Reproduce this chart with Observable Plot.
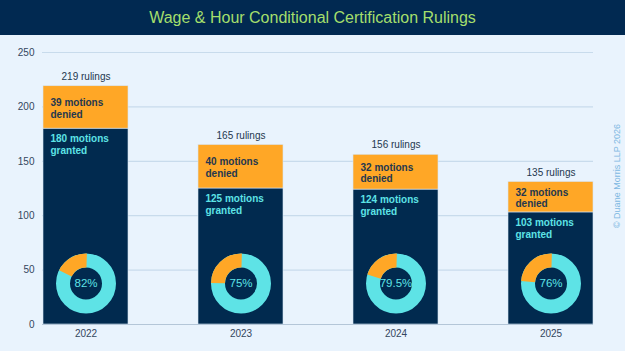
<!DOCTYPE html>
<html>
<head>
<meta charset="utf-8">
<script src="https://cdn.jsdelivr.net/npm/d3@7"></script>
<script src="https://cdn.jsdelivr.net/npm/@observablehq/plot@0.6"></script>
<style>
  html, body { margin: 0; padding: 0; background: #e9f3fd; width: 625px; height: 351px; overflow: hidden; }
  #title { height: 35px; background: #012951; color: #a4df6c; font: 16px "Liberation Sans", Arial, sans-serif; line-height: 35px; text-align: center; }
  #chart svg { display: block; }
</style>
</head>
<body>
<div id="title">Wage &amp; Hour Conditional Certification Rulings</div>
<div id="chart"></div>
<script>
const years = ["2022", "2023", "2024", "2025"];
const granted = [180, 125, 124, 103];
const deniedBars = [39, 40, 32, 28];      // drawn heights of the orange segments
const deniedCounts = [39, 40, 32, 32];    // numbers printed in the labels
const rulings = [219, 165, 156, 135];
const grantRate = [82, 75, 79.5, 76];
const yTicks = [0, 50, 100, 150, 200, 250];

const NAVY = "#012a4f", ORANGE = "#ffa726", CYAN = "#5ee3e6", DARK = "#24374f";

const rows = years.map((year, i) => ({
  year, granted: granted[i], denied: deniedBars[i], top: granted[i] + deniedBars[i],
  mid: granted[i] + deniedBars[i] / 2,
  rulings: rulings[i], rate: grantRate[i],
  deniedText: `${deniedCounts[i]} motions\ndenied`,
  grantedText: `${granted[i]} motions\ngranted`
}));
const stacked = rows.flatMap(d => [
  {year: d.year, type: "granted", value: d.granted},
  {year: d.year, type: "denied", value: d.denied}
]);

const R = 23, C = 2 * Math.PI * R;
const arcMarks = rows.map(d => {
  const f = 1 - d.rate / 100;
  return Plot.dot([d], {x: "year", y: 0, dy: -41, r: R, fill: "none", stroke: ORANGE, strokeWidth: 14,
    strokeDasharray: `0 ${(0.75 - f) * C} ${f * C} ${C}`});
});

const chart = Plot.plot({
  width: 625, height: 316,
  marginTop: 17, marginBottom: 27, marginLeft: 42, marginRight: 32,
  style: {background: "transparent", fontFamily: "'Liberation Sans', Arial, sans-serif", fontSize: "10px", color: "#34465e"},
  x: {type: "band", domain: years, paddingInner: 0.453, paddingOuter: 0, label: null},
  y: {domain: [0, 250], label: null},
  marks: [
    Plot.gridY(yTicks, {stroke: "#c8dbec", strokeOpacity: 1, strokeWidth: 1.2}),
    Plot.axisY(yTicks, {tickSize: 0, tickPadding: 8, fill: "#34465e", label: null}),
    Plot.axisX({tickSize: 0, tickPadding: 5, fill: "#34465e", label: null}),
    Plot.barY(stacked, {x: "year", y: "value", fill: d => d.type === "granted" ? NAVY : ORANGE,
      stroke: "#d6e6f5", strokeWidth: 0.6, insetLeft: 0, insetRight: 0}),
    Plot.ruleY([0], {stroke: "#b4c6d8", strokeWidth: 1.2}),
    Plot.text(rows, {x: "year", y: "top", dy: -9.5, text: d => `${d.rulings} rulings`, fill: DARK, fontSize: 10}),
    Plot.text(rows, {x: "year", y: "mid", dy: 0.5, dx: -35.5, text: "deniedText", textAnchor: "start",
      lineAnchor: "middle", lineHeight: 1.18, fill: DARK, fontWeight: "bold", fontSize: 10}),
    Plot.text(rows, {x: "year", y: "granted", dy: 15.5, dx: -35.5, text: "grantedText", textAnchor: "start",
      lineAnchor: "middle", lineHeight: 1.2, fill: CYAN, fontWeight: "bold", fontSize: 10}),
    Plot.dot(rows, {x: "year", y: 0, dy: -41, r: R, fill: "none", stroke: CYAN, strokeWidth: 14}),
    ...arcMarks,
    Plot.text(rows, {x: "year", y: 0, dy: -41, text: d => `${d.rate}%`, fill: CYAN, fontSize: 11.5}),
    Plot.text(["© Duane Morris LLP 2026"], {frameAnchor: "right", textAnchor: "middle", dx: 24, dy: -12.5, rotate: -90,
      fill: "#7db8e2", fontSize: 9})
  ]
});
document.getElementById("chart").appendChild(chart);
</script>
</body>
</html>
